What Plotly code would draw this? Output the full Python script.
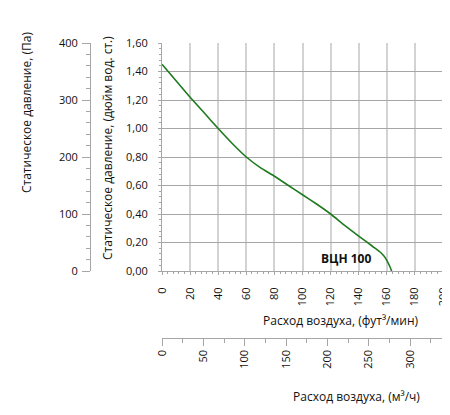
import plotly.graph_objects as go

# Data
flow_cfm = [0, 10, 20, 30, 40, 50, 60, 70, 80, 90, 100, 110, 120, 130, 140, 150, 155, 158, 160, 162, 163.5]
pressure_inwg = [1.45, 1.335, 1.22, 1.11, 1.0, 0.895, 0.80, 0.725, 0.665, 0.60, 0.535, 0.47, 0.40, 0.32,
                 0.245, 0.172, 0.135, 0.105, 0.075, 0.035, 0.0]
series_name = "ВЦН 100"

cfm_range = [0, 200]
m3h_range = [0, 339.8]
inwg_range = [0, 1.6]
pa_range = [0, 400]

OFF = 8  # page body margin
W, H = 450 - OFF, 415 - OFF
def px(x): return (x - OFF) / W
def py(y): return 1 - (y - OFF) / H

FONT = "Open Sans"
GRID_V = "#d3d3d3"
GRID_H = "#a6a6a6"
AX = "#a6a6a6"

fig = go.Figure()
fig.add_trace(go.Scatter(x=flow_cfm, y=pressure_inwg, mode="lines",
                         line=dict(color="#1f7a1f", width=1.6, shape="spline", smoothing=0.5),
                         xaxis="x", yaxis="y", showlegend=False, hoverinfo="skip"))
# invisible traces to carry the secondary axes
fig.add_trace(go.Scatter(x=[m3h_range[0]], y=[0], mode="markers", marker=dict(opacity=0),
                         xaxis="x2", yaxis="y", showlegend=False, hoverinfo="skip"))
fig.add_trace(go.Scatter(x=[0], y=[pa_range[0]], mode="markers", marker=dict(opacity=0),
                         xaxis="x", yaxis="y2", showlegend=False, hoverinfo="skip"))

xdom = [px(162), px(443)]
ydom = [py(271), py(43)]

fig.update_layout(
    template="none",
    width=W, height=H,
    margin=dict(l=0, r=0, t=0, b=0, autoexpand=False),
    paper_bgcolor="white", plot_bgcolor="white",
    separators=", ",
    font=dict(family=FONT, size=11, color="#111111"),
    xaxis=dict(domain=xdom, range=cfm_range, dtick=20, tick0=0, automargin=False,
               showgrid=True, gridcolor=GRID_V, gridwidth=1.5,
               showline=True, linecolor=AX, linewidth=1, mirror=False,
               ticks="outside", ticklen=3, tickcolor=AX, tickangle=-90,
               ticklabelstandoff=8,
               minor=dict(dtick=4, ticks="outside", ticklen=2, tickcolor=AX, showgrid=False),
               zeroline=False, anchor="y", fixedrange=True),
    yaxis=dict(domain=ydom, range=inwg_range, dtick=0.2, tick0=0, tickformat=".2f", automargin=False,
               showgrid=True, gridcolor=GRID_H, gridwidth=1,
               showline=True, linecolor=AX, linewidth=1,
               ticks="outside", ticklen=3, tickcolor=AX,
               ticklabelstandoff=8,
               minor=dict(dtick=0.04, ticks="outside", ticklen=2, tickcolor=AX, showgrid=False),
               zeroline=False, anchor="x", fixedrange=True),
    xaxis2=dict(domain=xdom, range=m3h_range, dtick=50, tick0=0, overlaying="x", automargin=False,
                anchor="free", position=py(337.5), side="bottom",
                showgrid=False, showline=True, linecolor=AX, linewidth=1,
                ticks="outside", ticklen=7, tickcolor=AX, tickangle=-90,
                minor=dict(dtick=25, ticks="outside", ticklen=4, tickcolor=AX, showgrid=False),
                zeroline=False, fixedrange=True),
    yaxis2=dict(domain=ydom, range=pa_range, dtick=100, tick0=0, overlaying="y", automargin=False,
                anchor="free", position=px(90), side="left",
                showgrid=False, showline=True, linecolor=AX, linewidth=1,
                ticks="outside", ticklen=8, tickcolor=AX,
                ticklabelstandoff=2,
                minor=dict(dtick=20, ticks="outside", ticklen=4, tickcolor=AX, showgrid=False),
                zeroline=False, fixedrange=True),
)

ann_font = dict(family=FONT, size=12, color="#111111")
fig.add_annotation(text="Расход воздуха, (фут³/мин)", xref="paper", yref="paper",
                   x=px(421), y=py(320), xanchor="right", yanchor="middle",
                   showarrow=False, font=ann_font)
fig.add_annotation(text="Расход воздуха, (м³/ч)", xref="paper", yref="paper",
                   x=px(422), y=py(396), xanchor="right", yanchor="middle",
                   showarrow=False, font=ann_font)
fig.add_annotation(text="Статическое давление, (Па)", xref="paper", yref="paper",
                   x=px(27), y=py(113), xanchor="center", yanchor="middle", textangle=-90,
                   showarrow=False, font=ann_font)
fig.add_annotation(text="Статическое давление, (дюйм вод. ст.)", xref="paper", yref="paper",
                   x=px(108), y=py(148), xanchor="center", yanchor="middle", textangle=-90,
                   showarrow=False, font=ann_font)
fig.add_annotation(text="<b>" + series_name + "</b>", xref="x", yref="y",
                   x=150, y=0.09, xanchor="right", yanchor="middle",
                   showarrow=False, font=dict(family=FONT, size=12, color="#111111"))

fig.write_html("out.html")
